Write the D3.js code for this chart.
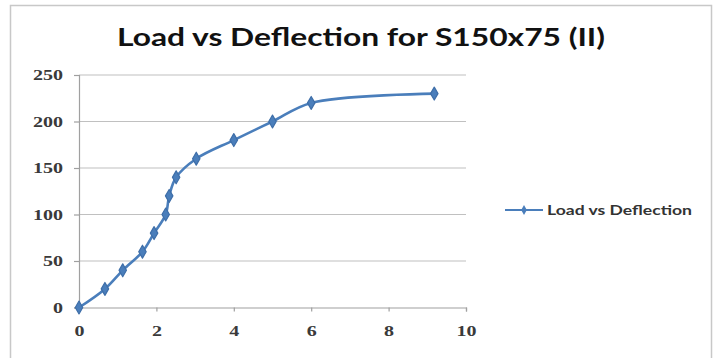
<!DOCTYPE html>
<html>
<head>
<meta charset="utf-8">
<script src="https://cdn.jsdelivr.net/npm/d3@7"></script>
<style>
  html, body { margin: 0; padding: 0; background: #fff; }
  svg { display: block; }
</style>
</head>
<body>
<svg id="chart" width="719" height="358"></svg>
<script>
// Deflection (x) and load (y) readings for the S150x75 (II) test
const deflection = [0, 0.67, 1.13, 1.64, 1.94, 2.24, 2.33, 2.51, 3.03, 4.0, 5.0, 6.0, 9.18];
const load       = [0, 20, 40, 60, 80, 100, 120, 140, 160, 180, 200, 220, 230];
const xTicks = [0, 2, 4, 6, 8, 10];
const yTicks = [0, 50, 100, 150, 200, 250];
const titleText = "Load vs Deflection for S150x75 (II)";
const seriesName = "Load vs Deflection";

const svg = d3.select("#chart");
const seriesColor = "#4A7EBB";
const textFont = "Lato, 'Open Sans', 'Liberation Sans', sans-serif";
const tickFont = "'Liberation Serif', 'DejaVu Serif', serif";

// outer chart frame (bottom edge falls below the visible area)
svg.append("rect")
  .attr("x", 10.5).attr("y", 5.5)
  .attr("width", 701).attr("height", 370)
  .attr("fill", "#fff")
  .attr("stroke", "#c8c8c8").attr("stroke-width", 1.5);

const x = d3.scaleLinear().domain([0, 10]).range([79, 466]);
const y = d3.scaleLinear().domain([0, 250]).range([307.5, 75]);

// horizontal gridlines
svg.append("g")
  .selectAll("line")
  .data(yTicks.filter(d => d > 0))
  .join("line")
  .attr("x1", x(0)).attr("x2", x(10))
  .attr("y1", d => y(d)).attr("y2", d => y(d))
  .attr("stroke", "#c0c0c0").attr("stroke-width", 1.2);

// y axis
const yAxis = svg.append("g")
  .attr("transform", `translate(${x(0)},0)`)
  .call(d3.axisLeft(y).tickValues(yTicks).tickSize(5).tickPadding(11));
// x axis
const xAxis = svg.append("g")
  .attr("transform", `translate(0,${y(0)})`)
  .call(d3.axisBottom(x).tickValues(xTicks).tickSize(4).tickPadding(14));

[yAxis, xAxis].forEach(g => {
  g.select(".domain").attr("stroke", "#a0a0a0").attr("stroke-width", 1.2);
  g.selectAll(".tick line").attr("stroke", "#a0a0a0").attr("stroke-width", 1.2);
  g.selectAll(".tick text")
    .attr("fill", "#3a3a3a")
    .attr("textLength", d => String(d).length * 10)
    .attr("lengthAdjust", "spacingAndGlyphs")
    .style("font-family", tickFont)
    .style("font-weight", "bold")
    .style("font-size", "15px");
});

// title
svg.append("text")
  .attr("x", 361).attr("y", 46)
  .attr("text-anchor", "middle")
  .attr("textLength", 488).attr("lengthAdjust", "spacingAndGlyphs")
  .style("font-family", textFont)
  .style("font-weight", "bold")
  .style("font-size", "24px")
  .attr("fill", "#111")
  .text(titleText);

const pts = deflection.map((d, i) => [d, load[i]]);

// smoothed series line
const line = d3.line()
  .x(d => x(d[0])).y(d => y(d[1]))
  .curve(d3.curveCatmullRom.alpha(0.5));

svg.append("path")
  .datum(pts)
  .attr("d", line)
  .attr("fill", "none")
  .attr("stroke", seriesColor)
  .attr("stroke-width", 2.6)
  .attr("stroke-linejoin", "round");

// diamond markers
const diamond = d3.symbol().type(d3.symbolDiamond).size(48);
svg.append("g")
  .selectAll("path")
  .data(pts)
  .join("path")
  .attr("transform", d => `translate(${x(d[0])},${y(d[1])})`)
  .attr("d", diamond)
  .attr("fill", seriesColor)
  .attr("stroke", "#3e6ea8").attr("stroke-width", 1.2)
  .attr("stroke-linejoin", "round");

// legend
const lg = svg.append("g");
lg.append("line")
  .attr("x1", 505).attr("x2", 543).attr("y1", 210).attr("y2", 210)
  .attr("stroke", seriesColor).attr("stroke-width", 2.2);
lg.append("path")
  .attr("transform", "translate(524,210)")
  .attr("d", d3.symbol().type(d3.symbolDiamond).size(28))
  .attr("fill", seriesColor);
lg.append("text")
  .attr("x", 547).attr("y", 214.5)
  .attr("textLength", 145).attr("lengthAdjust", "spacingAndGlyphs")
  .style("font-family", textFont)
  .style("font-weight", "bold")
  .style("font-size", "13px")
  .attr("fill", "#333")
  .text(seriesName);
</script>
</body>
</html>
